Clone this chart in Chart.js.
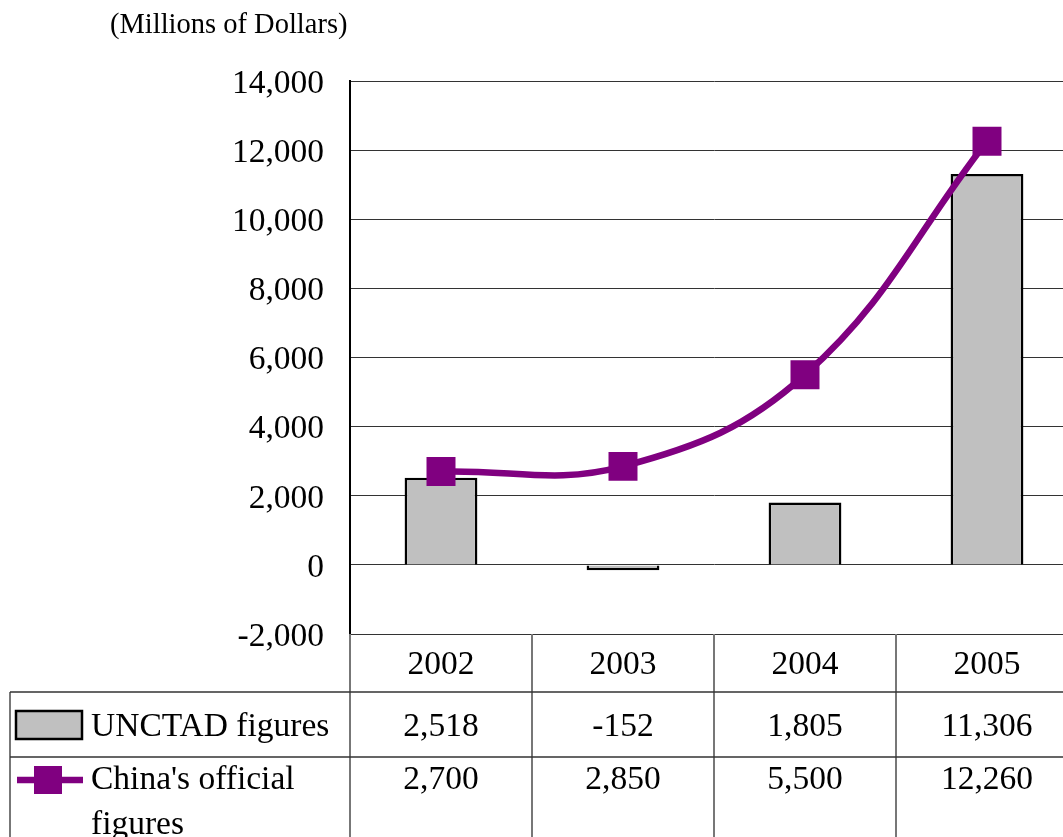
<!DOCTYPE html>
<html>
<head>
<meta charset="utf-8">
<script src="https://cdn.jsdelivr.net/npm/chart.js@4/dist/chart.umd.min.js"></script>
<style>
  html, body { margin: 0; padding: 0; background: #fff; overflow: hidden; }
  #wrap { position: absolute; left: 0; top: 0; width: 1100px; height: 837px; }
</style>
</head>
<body>
<div id="wrap"><canvas id="myChart" width="1100" height="837"></canvas></div>
<script>
const years = ['2002', '2003', '2004', '2005'];
const unctad = [2518, -152, 1805, 11306];
const china = [2700, 2850, 5500, 12260];
const yTicks = [-2000, 0, 2000, 4000, 6000, 8000, 10000, 12000, 14000];

const serif = '"Liberation Serif", "Times New Roman", serif';
const fmt = v => v.toLocaleString('en-US');

// draws the unit label and the data table under the plot
const tablePlugin = {
  id: 'dataTable',
  afterDraw(chart) {
    const ctx = chart.ctx;
    const area = chart.chartArea;
    const x = chart.scales.x;
    const half = (x.getPixelForValue(1) - x.getPixelForValue(0)) / 2;
    const top = area.bottom;
    const r1 = top + 58, r2 = r1 + 65, bottom = chart.height;
    const left = 10;

    ctx.save();
    ctx.fillStyle = '#000';
    ctx.font = '28.5px ' + serif;
    ctx.textAlign = 'left';
    ctx.textBaseline = 'alphabetic';
    ctx.fillText('(Millions of Dollars)', 110, 33);

    // lines
    ctx.strokeStyle = '#777';
    ctx.lineWidth = 2;
    ctx.beginPath();
    ctx.moveTo(area.left, top); ctx.lineTo(area.left, bottom);
    for (let i = 0; i < years.length; i++) {
      const bx = x.getPixelForValue(i) + half;
      ctx.moveTo(bx, top); ctx.lineTo(bx, bottom);
    }
    ctx.moveTo(left, r1); ctx.lineTo(left, bottom);
    ctx.stroke();

    ctx.strokeStyle = '#333';
    ctx.lineWidth = 1.5;
    ctx.beginPath();
    ctx.moveTo(left, r1); ctx.lineTo(chart.width, r1);
    ctx.moveTo(left, r2); ctx.lineTo(chart.width, r2);
    ctx.stroke();

    // text
    ctx.font = '33.5px ' + serif;
    ctx.textBaseline = 'middle';
    ctx.textAlign = 'center';
    years.forEach((y, i) => {
      const cx = x.getPixelForValue(i);
      ctx.fillText(y, cx, top + 31);
      ctx.fillText(fmt(unctad[i]), cx, r1 + 35);
      ctx.fillText(fmt(china[i]), cx, r2 + 23);
    });
    ctx.textAlign = 'left';
    ctx.fillText('UNCTAD figures', 91, r1 + 35);
    ctx.fillText("China's official", 91, r2 + 23);
    ctx.fillText('figures', 91, r2 + 68);

    // legend keys
    ctx.fillStyle = '#c0c0c0';
    ctx.strokeStyle = '#000';
    ctx.lineWidth = 2.5;
    ctx.fillRect(16, r1 + 19, 66, 28);
    ctx.strokeRect(16, r1 + 19, 66, 28);

    ctx.strokeStyle = '#800080';
    ctx.lineWidth = 6.5;
    ctx.beginPath();
    ctx.moveTo(17, r2 + 23); ctx.lineTo(83, r2 + 23);
    ctx.stroke();
    ctx.fillStyle = '#800080';
    ctx.fillRect(34, r2 + 9, 28, 28);
    ctx.restore();
  }
};

const ctx = document.getElementById('myChart');

let config = {
  type: 'bar',
  data: {
    labels: years,
    datasets: [
      {
        type: 'line',
        label: "China's official figures",
        data: china,
        borderColor: '#800080',
        backgroundColor: '#800080',
        borderWidth: 6.5,
        tension: 0.4,
        pointStyle: 'rect',
        pointRadius: 20.5,
        pointHoverRadius: 20.5,
        pointBorderWidth: 0,
        order: 0
      },
      {
        label: 'UNCTAD figures',
        data: unctad,
        backgroundColor: '#c0c0c0',
        borderColor: '#000',
        borderWidth: 2.5,
        barPercentage: 0.4,
        categoryPercentage: 1,
        order: 1
      }
    ]
  },
  options: {
    responsive: false,
    animation: false,
    layout: { padding: { left: 0, right: 22, top: 81, bottom: 203 } },
    plugins: {
      legend: { display: false },
      tooltip: { enabled: false }
    },
    scales: {
      x: { display: false },
      y: {
        min: -2000,
        max: 14000,
        afterFit: s => { s.width = 350; },
        afterBuildTicks: s => { s.ticks = yTicks.map(v => ({ value: v })); },
        ticks: {
          color: '#000',
          padding: 26,
          labelOffset: 3,
          font: { family: serif, size: 33.5 },
          callback: v => fmt(v)
        },
        grid: { color: '#333', lineWidth: 1, drawTicks: false },
        border: { display: true, color: '#000', width: 2 }
      }
    }
  },
  plugins: [tablePlugin]
};

let chart = new Chart(ctx, config);
</script>
</body>
</html>
